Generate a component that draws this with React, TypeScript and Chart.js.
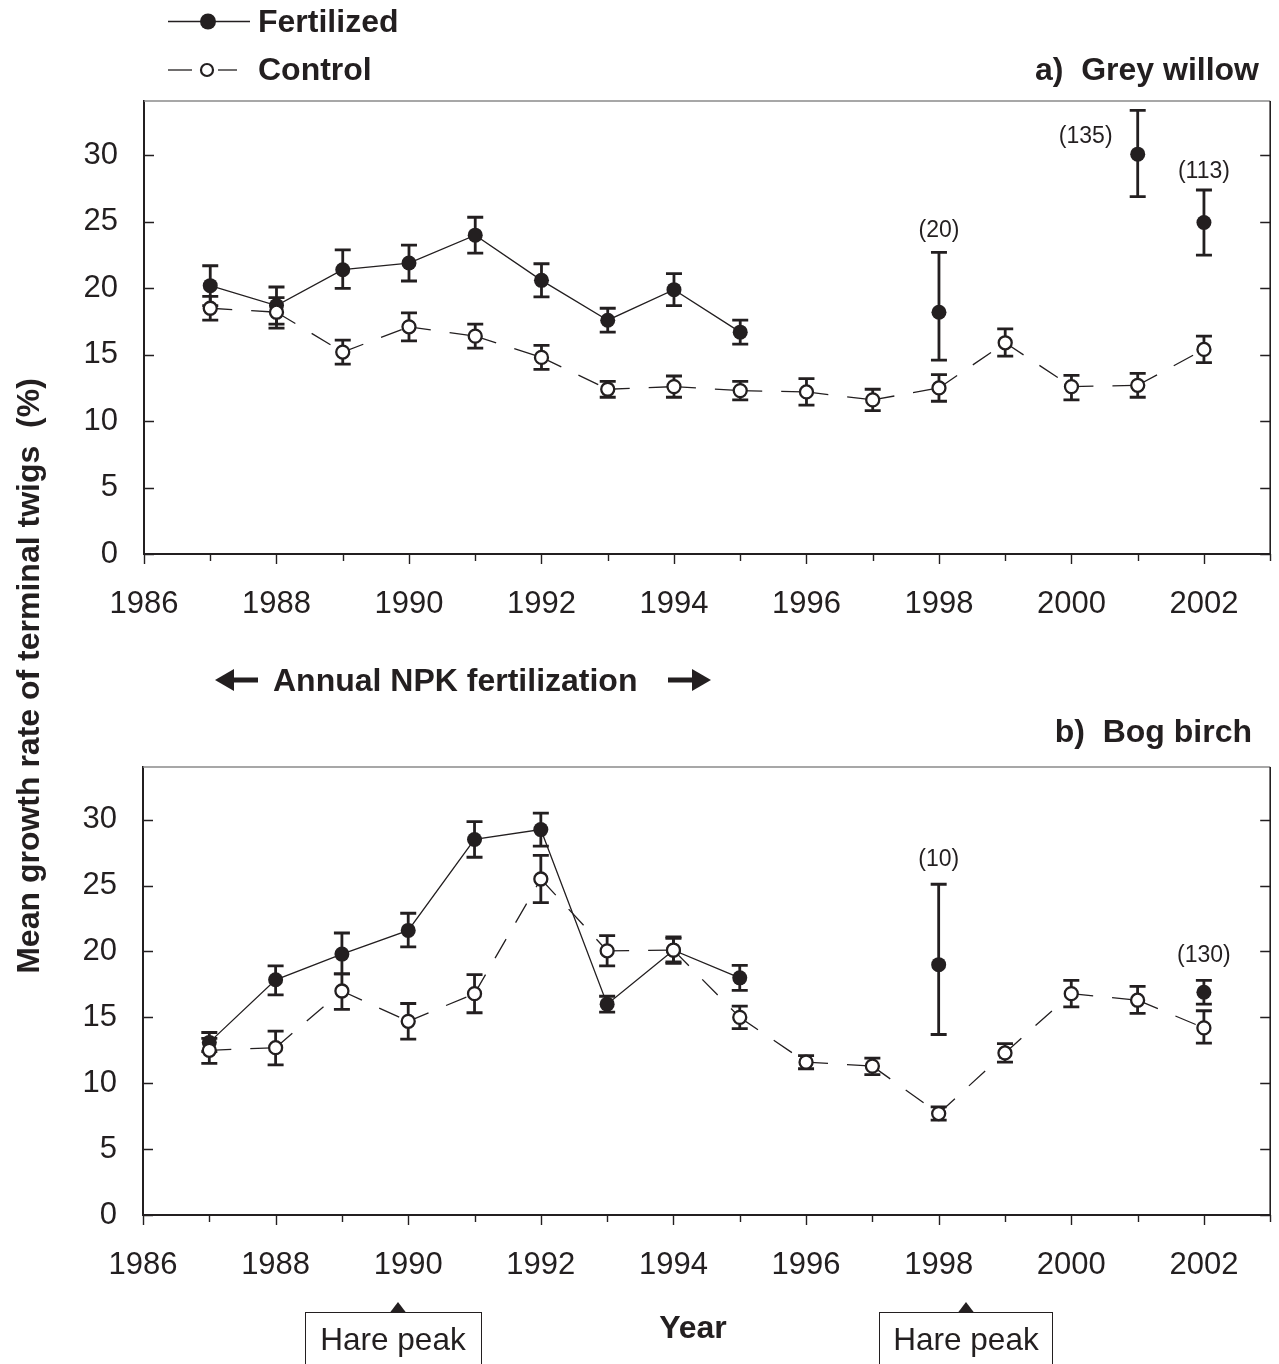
import React, { useEffect, useRef } from "react";
import { Chart, registerables } from "chart.js";

Chart.register(...registerables);

// ---------------- data ----------------
const years = [1987, 1988, 1989, 1990, 1991, 1992, 1993, 1994, 1995, 1996, 1997, 1998, 1999, 2000, 2001, 2002];
const xTickYears = [1986, 1987, 1988, 1989, 1990, 1991, 1992, 1993, 1994, 1995, 1996, 1997, 1998, 1999, 2000, 2001, 2002, 2003];
const yTickValues = [0, 5, 10, 15, 20, 25, 30];
const lastFertilizedYear = 1995;

// a) Grey willow
const willowFertilized = [20.2, 18.7, 21.4, 21.9, 24.0, 20.6, 17.6, 19.9, 16.7, null, null, 18.2, null, null, 30.1, 24.95];
// error bars as [minus, plus]
const willowFertilizedErr = [[1.5, 1.5], [1.4, 1.4], [1.4, 1.5], [1.35, 1.35], [1.35, 1.35], [1.25, 1.25], [0.9, 0.9], [1.2, 1.2], [0.9, 0.9], null, null, [3.6, 4.5], null, null, [3.2, 3.3], [2.45, 2.45]];
const willowControl = [18.5, 18.2, 15.2, 17.1, 16.4, 14.8, 12.4, 12.6, 12.3, 12.2, 11.6, 12.5, 15.9, 12.6, 12.7, 15.4];
const willowControlErr = [[0.9, 0.9], [1.2, 1.1], [0.9, 0.9], [1.05, 1.05], [0.9, 0.9], [0.9, 0.9], [0.6, 0.6], [0.8, 0.8], [0.7, 0.7], [1.0, 1.0], [0.8, 0.8], [1.0, 1.0], [1.0, 1.05], [1.0, 0.85], [0.9, 0.9], [1.0, 1.0]];
const willowNotes = [
  { year: 1998, text: "(20)" },
  { year: 2001, text: "(135)" },
  { year: 2002, text: "(113)" },
];

// b) Bog birch
const birchFertilized = [13.1, 17.85, 19.8, 21.6, 28.5, 29.25, 16.0, 20.1, 18.0, null, null, 19.0, null, null, null, 16.9];
const birchFertilizedErr = [[0.7, 0.75], [1.15, 1.05], [1.5, 1.6], [1.25, 1.3], [1.35, 1.35], [1.25, 1.25], [0.6, 0.6], [0.9, 0.9], [0.95, 0.95], null, null, [5.3, 6.1], null, null, null, [0.9, 0.9]];
const birchControl = [12.5, 12.7, 17.0, 14.7, 16.8, 25.5, 20.05, 20.1, 15.0, 11.6, 11.3, 7.7, 12.3, 16.8, 16.3, 14.2];
const birchControlErr = [[1.0, 0.9], [1.3, 1.25], [1.4, 1.3], [1.35, 1.35], [1.45, 1.45], [1.8, 1.8], [1.15, 1.15], [1.0, 1.0], [0.85, 0.85], [0.5, 0.5], [0.65, 0.6], [0.5, 0.5], [0.7, 0.7], [1.0, 1.0], [1.0, 1.05], [1.15, 1.3]];
const birchNotes = [
  { year: 1998, text: "(10)" },
  { year: 2002, text: "(130)" },
];

// ---------------- layout / style ----------------
const INK = "#231f20";
const FONT = "'Liberation Sans', Arial, Helvetica, sans-serif";
const CAP = 8;
const willowNoteOffsets = [[0, -22], [-52, 26], [0, -18]];
const birchNoteOffsets = [[0, -25], [0, -25]];

type Err = number[] | null;

interface PanelSpec {
  fert: (number | null)[];
  fertErr: Err[];
  ctrl: (number | null)[];
  ctrlErr: Err[];
  notes: { year: number; text: string }[];
  noteOffsets: number[][];
  padTop: number;
  padBottom: number;
  padRight: number;
  yWidth: number;
  yMax: number;
}

function makeDecor(spec: PanelSpec) {
  return {
    id: "panelDecor",
    beforeDatasetsDraw(chart: any) {
      const { ctx } = chart;
      const x = chart.scales.x;
      const y = chart.scales.y;
      ctx.save();
      ctx.strokeStyle = INK;
      ctx.lineWidth = 2.8;
      ctx.lineCap = "butt";
      const groups: [(number | null)[], Err[]][] = [
        [spec.fert, spec.fertErr],
        [spec.ctrl, spec.ctrlErr],
      ];
      for (const [vals, errs] of groups) {
        vals.forEach((v, i) => {
          const e = errs[i];
          if (v == null || !e) return;
          const px = x.getPixelForValue(years[i]);
          const top = y.getPixelForValue(v + e[1]);
          const bot = y.getPixelForValue(v - e[0]);
          ctx.beginPath();
          ctx.moveTo(px, top);
          ctx.lineTo(px, bot);
          ctx.moveTo(px - CAP, top);
          ctx.lineTo(px + CAP, top);
          ctx.moveTo(px - CAP, bot);
          ctx.lineTo(px + CAP, bot);
          ctx.stroke();
        });
      }
      ctx.restore();
    },
    afterDraw(chart: any) {
      const { ctx, chartArea } = chart;
      const { left, right, top, bottom } = chartArea;
      const x = chart.scales.x;
      const y = chart.scales.y;
      ctx.save();
      // top frame
      ctx.strokeStyle = "#8a8a8a";
      ctx.lineWidth = 1.5;
      ctx.beginPath();
      ctx.moveTo(left, top);
      ctx.lineTo(right, top);
      ctx.stroke();
      // right frame
      ctx.strokeStyle = INK;
      ctx.lineWidth = 1.6;
      ctx.beginPath();
      ctx.moveTo(right, top);
      ctx.lineTo(right, bottom);
      ctx.stroke();
      // y ticks (inward, both sides)
      ctx.lineWidth = 1.4;
      ctx.beginPath();
      yTickValues.forEach((v) => {
        const py = Math.round(y.getPixelForValue(v)) + 0.5;
        ctx.moveTo(left, py);
        ctx.lineTo(left + 10, py);
        ctx.moveTo(right, py);
        ctx.lineTo(right - 10, py);
      });
      // x ticks (outward)
      xTickYears.forEach((yr) => {
        const px = Math.round(x.getPixelForValue(yr)) + 0.5;
        const len = yr % 2 === 0 ? 10 : 7;
        ctx.moveTo(px, bottom);
        ctx.lineTo(px, bottom + len);
      });
      ctx.stroke();
      // sample-size notes
      ctx.fillStyle = INK;
      ctx.font = `23px ${FONT}`;
      ctx.textAlign = "center";
      ctx.textBaseline = "middle";
      spec.notes.forEach((n, k) => {
        const i = years.indexOf(n.year);
        const v = spec.fert[i];
        const e = spec.fertErr[i];
        if (v == null || !e) return;
        const off = spec.noteOffsets[k];
        const px = x.getPixelForValue(n.year) + off[0];
        const py = y.getPixelForValue(v + e[1]) + off[1];
        ctx.fillText(n.text, px, py);
      });
      ctx.restore();
    },
  };
}

function buildConfig(spec: PanelSpec): any {
  const ctrlPoints = years.map((yr, i) => ({ x: yr, y: spec.ctrl[i] }));
  const fertPoints = years
    .map((yr, i) => ({ x: yr, y: spec.fert[i] }))
    .filter((p) => p.y != null);
  const tickFont = { family: FONT, size: 31 };
  return {
    type: "line",
    data: {
      datasets: [
        {
          label: "Control",
          data: ctrlPoints,
          borderColor: INK,
          borderWidth: 1.3,
          borderDash: [22, 19],
          pointRadius: 6.5,
          pointBackgroundColor: "#ffffff",
          pointBorderColor: INK,
          pointBorderWidth: 2.3,
          fill: false,
          segment: {
            borderDashOffset: (c: any) => c.p0DataIndex * 0.001,
          },
        },
        {
          label: "Fertilized",
          data: fertPoints,
          borderColor: INK,
          borderWidth: 1.3,
          pointRadius: 7.5,
          pointBackgroundColor: INK,
          pointBorderColor: INK,
          pointBorderWidth: 0,
          fill: false,
          segment: {
            borderColor: (c: any) => (c.p0.parsed.x >= lastFertilizedYear ? "rgba(0,0,0,0)" : INK),
          },
        },
      ],
    },
    options: {
      animation: false,
      responsive: false,
      events: [],
      layout: { padding: { left: 0, right: spec.padRight, top: spec.padTop, bottom: spec.padBottom } },
      plugins: { legend: { display: false }, tooltip: { enabled: false }, title: { display: false } },
      scales: {
        x: {
          type: "linear",
          min: 1986,
          max: 2003,
          grid: { display: false },
          border: { display: true, color: INK, width: 2 },
          ticks: {
            autoSkip: false,
            maxRotation: 0,
            minRotation: 0,
            padding: 24,
            color: INK,
            font: tickFont,
            callback: (v: number) => (v % 2 === 0 ? String(v) : ""),
          },
          afterBuildTicks: (s: any) => {
            s.ticks = xTickYears.map((v) => ({ value: v }));
          },
          afterFit: (s: any) => {
            s.height = 60;
            s.paddingLeft = 0;
            s.paddingRight = 0;
            s.paddingTop = 0;
            s.paddingBottom = 0;
          },
        },
        y: {
          type: "linear",
          min: 0,
          max: spec.yMax,
          grid: { display: false },
          border: { display: true, color: INK, width: 2 },
          ticks: {
            padding: 18,
            color: INK,
            font: tickFont,
            callback: (v: number) => String(v),
          },
          afterBuildTicks: (s: any) => {
            s.ticks = yTickValues.map((v) => ({ value: v }));
          },
          afterFit: (s: any) => {
            s.width = spec.yWidth;
            s.paddingLeft = 0;
            s.paddingRight = 0;
            s.paddingTop = 0;
            s.paddingBottom = 0;
          },
        },
      },
    },
    plugins: [makeDecor(spec)],
  };
}

function Panel({ spec, top }: { spec: PanelSpec; top: number }) {
  const ref = useRef<HTMLCanvasElement | null>(null);
  useEffect(() => {
    if (!ref.current) return;
    const chart = new Chart(ref.current, buildConfig(spec));
    return () => chart.destroy();
  }, [spec]);
  return (
    <canvas
      ref={ref}
      width={1279}
      height={560}
      style={{ position: "absolute", left: 0, top, width: 1279, height: 560, display: "block" }}
    />
  );
}

function Text({
  x,
  y,
  text,
  size = 32,
  bold = false,
  align = "left",
}: {
  x: number;
  y: number;
  text: string;
  size?: number;
  bold?: boolean;
  align?: "left" | "center" | "right";
}) {
  const tx = align === "left" ? "0" : align === "center" ? "-50%" : "-100%";
  return (
    <div
      style={{
        position: "absolute",
        left: x,
        top: y,
        transform: `translate(${tx}, -50%)`,
        fontFamily: FONT,
        fontSize: size,
        fontWeight: bold ? 700 : 400,
        lineHeight: 1,
        whiteSpace: "pre",
        color: INK,
      }}
    >
      {text}
    </div>
  );
}

const willowSpec: PanelSpec = {
  fert: willowFertilized,
  fertErr: willowFertilizedErr,
  ctrl: willowControl,
  ctrlErr: willowControlErr,
  notes: willowNotes,
  noteOffsets: willowNoteOffsets,
  padTop: 21,
  padBottom: 26,
  padRight: 7,
  yWidth: 144,
  yMax: 34.1,
};

const birchSpec: PanelSpec = {
  fert: birchFertilized,
  fertErr: birchFertilizedErr,
  ctrl: birchControl,
  ctrlErr: birchControlErr,
  notes: birchNotes,
  noteOffsets: birchNoteOffsets,
  padTop: 27,
  padBottom: 25,
  padRight: 6,
  yWidth: 143,
  yMax: 34,
};

export default function App() {
  return (
    <div
      style={{
        position: "absolute",
        left: 0,
        top: 0,
        width: 1279,
        height: 1364,
        overflow: "hidden",
        background: "#ffffff",
      }}
    >
      <Panel spec={willowSpec} top={80} />
      <Panel spec={birchSpec} top={740} />

      <svg style={{ position: "absolute", left: 0, top: 0 }} width={1279} height={1364}>
        {/* legend symbols */}
        <line x1={168} y1={21.5} x2={250} y2={21.5} stroke={INK} strokeWidth={1.3} />
        <circle cx={208} cy={21.5} r={8} fill={INK} />
        <line x1={168} y1={70} x2={192} y2={70} stroke={INK} strokeWidth={1.3} />
        <line x1={218} y1={70} x2={237} y2={70} stroke={INK} strokeWidth={1.3} />
        <circle cx={207} cy={70} r={6} fill="#ffffff" stroke={INK} strokeWidth={2.2} />
        {/* NPK arrows */}
        <polygon points="215,680 234,669 234,691" fill={INK} />
        <rect x={232} y={677.5} width={26} height={5} fill={INK} />
        <polygon points="711,680 692,669 692,691" fill={INK} />
        <rect x={668} y={677.5} width={26} height={5} fill={INK} />
        {/* hare peak markers */}
        <polygon points="390,1312.5 406,1312.5 398,1302" fill={INK} />
        <polygon points="958,1312.5 974,1312.5 966,1302" fill={INK} />
      </svg>

      <div
        style={{
          position: "absolute",
          left: 305,
          top: 1312,
          width: 177,
          height: 70,
          border: `1.5px solid ${INK}`,
          borderBottom: "none",
          boxSizing: "border-box",
        }}
      />
      <div
        style={{
          position: "absolute",
          left: 879,
          top: 1312,
          width: 174,
          height: 70,
          border: `1.5px solid ${INK}`,
          borderBottom: "none",
          boxSizing: "border-box",
        }}
      />

      <Text x={258} y={21} text="Fertilized" bold />
      <Text x={258} y={69} text="Control" bold />
      <Text x={1259} y={69} text="a)  Grey willow" bold align="right" />
      <Text x={1252} y={731} text="b)  Bog birch" bold align="right" />
      <Text x={273} y={680} text="Annual NPK fertilization" bold />
      <Text x={693} y={1327} text="Year" bold align="center" />
      <Text x={393} y={1340} text="Hare peak" size={31.5} align="center" />
      <Text x={966} y={1340} text="Hare peak" size={31.5} align="center" />

      <div
        style={{
          position: "absolute",
          left: 28,
          top: 676,
          transform: "translate(-50%, -50%) rotate(-90deg)",
          fontFamily: FONT,
          fontSize: 32,
          fontWeight: 700,
          lineHeight: 1,
          whiteSpace: "pre",
          color: INK,
        }}
      >
        Mean growth rate of terminal twigs  (%)
      </div>
    </div>
  );
}
